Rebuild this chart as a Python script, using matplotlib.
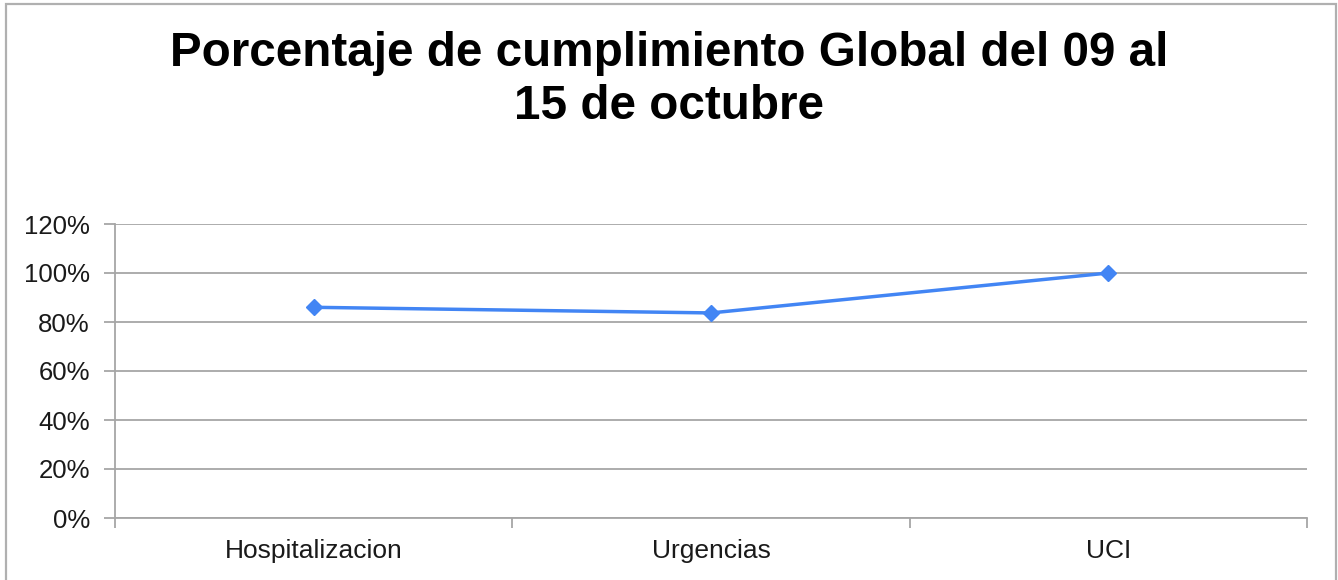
import matplotlib.pyplot as plt
from matplotlib.patches import Rectangle
from matplotlib.ticker import FixedLocator, PercentFormatter

categories = ["Hospitalizacion", "Urgencias", "UCI"]
cumplimiento = [0.86, 0.837, 1.00]
y_ticks = [0.0, 0.2, 0.4, 0.6, 0.8, 1.0, 1.2]
title = "Porcentaje de cumplimiento Global del 09 al\n15 de octubre"

plt.rcParams["font.family"] = ["Liberation Sans", "DejaVu Sans"]

fig = plt.figure(figsize=(13.38, 5.8), dpi=100)
# chart frame, bottom edge is cut off in the original
fig.add_artist(Rectangle((6 / 1338, -0.05), 1330 / 1338, 1.05 - 4 / 580,
                         transform=fig.transFigure, fill=False,
                         edgecolor="#b0b0b0", linewidth=1.6))

ax = fig.add_axes([115 / 1338, 62 / 580, 1192 / 1338, 294 / 580])
x = list(range(len(categories)))
ax.plot(x, cumplimiento, color="#4285F4", linewidth=2.5, marker="D",
        markersize=8.5, zorder=3)

ax.set_xlim(-0.5, len(categories) - 0.5)
ax.set_ylim(0, 1.2)
ax.set_yticks(y_ticks)
ax.yaxis.set_major_formatter(PercentFormatter(1.0, decimals=0))
ax.set_xticks(x)
ax.set_xticklabels(categories)
ax.xaxis.set_minor_locator(FixedLocator([i - 0.5 for i in range(len(categories) + 1)]))

ax.grid(axis="y", color="#a6a6a6", linewidth=1.3)
ax.set_axisbelow(True)
for side in ["top", "right"]:
    ax.spines[side].set_visible(False)
for side in ["left", "bottom"]:
    ax.spines[side].set_color("#a6a6a6")
    ax.spines[side].set_linewidth(1.3)

ax.tick_params(axis="y", length=8, width=1.3, color="#a6a6a6", pad=10,
               labelsize=18.5, labelcolor="#1a1a1a")
ax.tick_params(axis="x", which="major", length=0, pad=15,
               labelsize=19, labelcolor="#1a1a1a")
ax.tick_params(axis="x", which="minor", length=7, width=1.3, color="#a6a6a6")

fig.text(0.5, 1 - 80 / 580, title, ha="center", va="center",
         fontsize=34.3, fontweight="bold", linespacing=1.2)

plt.savefig("out.png", dpi=100)
